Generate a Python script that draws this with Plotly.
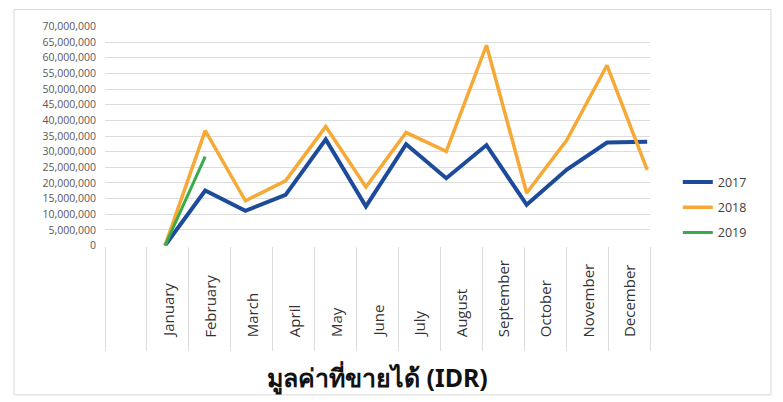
import plotly.graph_objects as go

# Month labels along the category axis
months = ["January", "February", "March", "April", "May", "June",
          "July", "August", "September", "October", "November", "December"]

# Sales value per reporting step (IDR)
sales_2017 = [0, 17_600_000, 11_100_000, 16_200_000, 33_900_000, 12_500_000, 32_400_000,
              21_500_000, 32_100_000, 13_000_000, 24_300_000, 32_900_000, 33_200_000]
sales_2018 = [0, 36_700_000, 14_300_000, 20_700_000, 38_000_000, 18_700_000, 36_100_000,
              30_100_000, 64_000_000, 16_800_000, 33_700_000, 57_600_000, 24_200_000]
sales_2019 = [0, 28_400_000]

series = [("2017", sales_2017, "#1d4b9b", 4),
          ("2018", sales_2018, "#f6a935", 3.5),
          ("2019", sales_2019, "#3aaa4a", 3)]

y_ticks = list(range(0, 70_000_001, 5_000_000))
y_labels = [f"{v:,}" for v in y_ticks]

fig = go.Figure()
for i, (name, values, color, width) in enumerate(series):
    fig.add_trace(go.Scatter(
        x=list(range(len(values))), y=values, name=name, mode="lines",
        line=dict(color=color, width=width), xaxis="x2",
        legendgroup=name,
    ))

# Month names, rotated and bottom-aligned under each category slot
for i, m in enumerate(months):
    fig.add_annotation(
        x=i, y=-0.425, xref="x", yref="paper", text=m, textangle=-90,
        showarrow=False, xanchor="center", yanchor="bottom",
        font=dict(family="Open Sans, sans-serif", size=15, color="#333333"),
    )

# Chart area frame
fig.add_shape(type="rect", xref="paper", yref="paper",
              x0=-0.167, x1=1.222, y0=-0.6765, y1=1.0747,
              line=dict(color="#d9d9d9", width=1), fillcolor="rgba(0,0,0,0)", layer="below")

fig.update_layout(
    width=783, height=402,
    margin=dict(l=105, r=133, t=25.5, b=155.5),
    paper_bgcolor="white", plot_bgcolor="white",
    showlegend=True,
    legend=dict(x=1.051, xanchor="left", y=0.357, yanchor="top",
                font=dict(family="Open Sans, sans-serif", size=12.5, color="#404040"),
                tracegroupgap=6, traceorder="grouped", bgcolor="rgba(0,0,0,0)"),
    title=dict(text="<b>มูลค่าที่ขายได้ (IDR)</b>", x=0.482, xanchor="center",
               y=0.06, yanchor="middle",
               font=dict(family="Noto Sans, sans-serif", size=25, color="#111111")),
    xaxis=dict(
        range=[-1.5, 11.5], showgrid=False, zeroline=False,
        tickmode="array", tickvals=[k - 0.5 for k in range(-1, 13)],
        ticks="outside", ticklen=104, tickcolor="#dcdcdc", tickwidth=1,
        showticklabels=False, showline=False,
    ),
    xaxis2=dict(range=[-1.494, 12.07], overlaying="x", visible=False),
    yaxis=dict(
        range=[-150_000, 70_150_000], tickmode="array",
        tickvals=y_ticks, ticktext=y_labels,
        showgrid=True, gridcolor="#dcdcdc", gridwidth=1, zeroline=False,
        ticks="", ticklabelstandoff=8,
        tickfont=dict(family="Open Sans, sans-serif", size=10.5, color="#595959"),
    ),
)

fig.write_html("out.html")
